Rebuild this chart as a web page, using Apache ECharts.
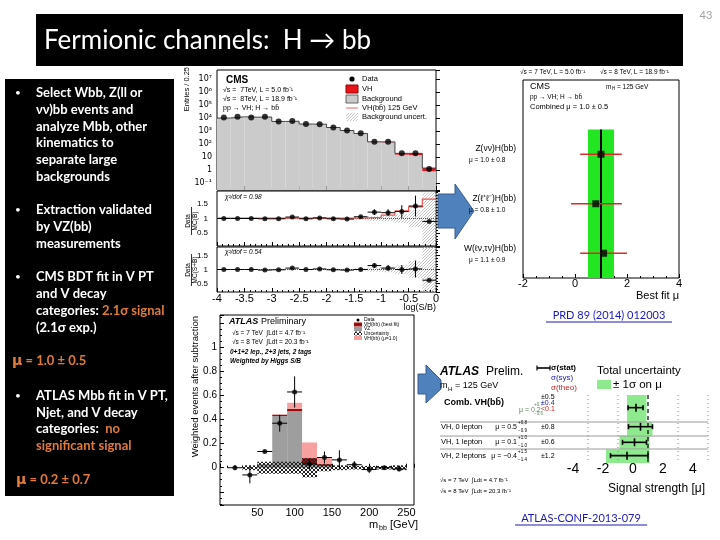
<!DOCTYPE html>
<html lang="en">
<head>
<meta charset="UTF-8">
<title>Fermionic channels: H → bb</title>
<script src="https://cdn.jsdelivr.net/npm/echarts@6.0.0/dist/echarts.min.js"></script>
<style>
  html, body { margin: 0; padding: 0; background: #fff; }
  #main { width: 720px; height: 540px; }
</style>
</head>
<body>
<div id="main"></div>
<script>
// ---------- CMS: log(S/B) distribution, bins of 0.25 ----------
var cmsBinLo = [-4, -3.75, -3.5, -3.25, -3, -2.75, -2.5, -2.25, -2, -1.75, -1.5, -1.25, -1, -0.75, -0.5, -0.25];
var cmsBinW = 0.25;
var cmsData = [10700, 12600, 10700, 12600, 5250, 5900, 3470, 3240, 1820, 1070, 660, 151, 151, 19, 19, 1.2];
var cmsBkg  = [9800, 12300, 11500, 11900, 5400, 5600, 3400, 3300, 1850, 1080, 640, 140, 135, 15, 14, 0.8];
var cmsVH   = [2, 3, 3, 4, 3, 4, 4, 5, 4, 4, 6, 6, 8, 4, 5, 0.6];
var cmsYMin = 0.0288, cmsYMax = 4.9e7;

// ratio panels
var ratioB      = [1.0, 1.0, 1.0, 0.99, 0.99, 1.05, 0.99, 1.02, 0.99, 0.98, 1.06, 1.22, 1.2, 1.24, 1.43, 0.9];
var ratioBErr   = [0.01, 0.01, 0.01, 0.01, 0.015, 0.015, 0.02, 0.02, 0.025, 0.03, 0.04, 0.1, 0.12, 0.22, 0.36, 0];
var ratioSBLine = [1.01, 1.01, 1.01, 1.01, 1.01, 1.01, 1.01, 1.01, 1.01, 1.01, 1.02, 1.04, 1.12, 1.26, 1.4, 1.67];
var ratioSB     = [1.0, 1.0, 1.0, 0.98, 0.99, 1.05, 1.0, 1.02, 0.99, 0.98, 1.0, 1.14, 1.05, 1.0, 1.02, 0.62];
var ratioSBErr  = [0.01, 0.01, 0.01, 0.01, 0.015, 0.015, 0.02, 0.02, 0.025, 0.03, 0.04, 0.08, 0.1, 0.16, 0.3, 0];
var ratioUnc    = [0.02, 0.02, 0.02, 0.02, 0.02, 0.02, 0.02, 0.02, 0.03, 0.03, 0.05, 0.08, 0.1, 0.15, 0.3, 0.9];

// ---------- CMS best fit mu per channel ----------
var cmsMuName = ['Z(νν)H(bb)', 'Z(ℓ⁺ℓ⁻)H(bb)', 'W(ℓν,τν)H(bb)'];
var cmsMuText = ['μ = 1.0 ± 0.8', 'μ = 0.8 ± 1.0', 'μ = 1.1 ± 0.9'];
var cmsMu   = [1.0, 0.8, 1.1];
var cmsMuLo = [0.2, -0.15, 0.2];
var cmsMuHi = [1.8, 1.8, 2.0];
var cmsMuRow = [2.5, 1.5, 0.5];
var cmsComb = 1.0, cmsCombBand = [0.5, 1.5], cmsCombTop = 3;

// ---------- ATLAS mbb after subtraction ----------
var mbbCenter = [20, 40, 60, 80, 100, 120, 140, 160, 180, 200, 220, 240];
var mbbData = [0.0, -0.06, 0.135, 0.37, 0.63, 0.03, 0.085, 0.065, 0.025, -0.015, 0.0, -0.01];
var mbbErr  = [0.02, 0.07, 0.01, 0.07, 0.13, 0.04, 0.05, 0.08, 0.03, 0.03, 0.015, 0.02];
var mbbUnc  = [0, 0.02, 0.05, 0.05, 0.05, 0.08, 0.03, 0.02, 0.015, 0.015, 0.015, 0.02];
var mbbSigLo = [50, 70, 90, 110, 130];
var mbbVZ     = [0.03, 0.43, 0.47, 0.03, 0.015];
var mbbFitTop = [0.03, 0.44, 0.49, 0.08, 0.03];
var mbbMu1Top = [0.03, 0.445, 0.54, 0.21, 0.08];
var mbbYMin = -0.31, mbbYMax = 1.27;

// ---------- ATLAS signal strength ----------
var atlasMu     = [0.2, 0.5, 0.1, -0.4];
var atlasLo     = [-0.4, -0.4, -0.9, -1.8];
var atlasHi     = [0.9, 1.3, 1.1, 1.1];
var atlasStatLo = [-0.33, -0.3, -0.7, -1.5];
var atlasStatHi = [0.67, 1.3, 0.9, 1.0];
var atlasRowFrom = [0, 2, 3, 4];
var atlasRowTo   = [2, 3, 4, 5];
var atlasRowY    = [0.93, 2.33, 3.48, 4.46];
var atlasGridMu  = [-3, -1, 3, 5];
var atlasSM = 1;

var SANS = '"Liberation Sans"';
function fnt(px, w, st) { return [st || '', w || '', px + 'px', SANS].join(' ').trim(); }

function hatch(color, step, cross) {
  var c = document.createElement('canvas');
  c.width = c.height = step;
  var g = c.getContext('2d');
  g.strokeStyle = color; g.lineWidth = 1;
  g.beginPath();
  g.moveTo(0, step); g.lineTo(step, 0);
  if (cross) { g.moveTo(0, 0); g.lineTo(step, step); }
  g.stroke();
  return c;
}
var greyHatch = { image: hatch('#c4c4c4', 3, false), repeat: 'repeat' };
var darkHatch = { image: hatch('#222', 4, true), repeat: 'repeat' };

// rect boxes [x0, x1, y0, y1]
function boxes(gi, items, style, z) {
  return {
    type: 'custom', xAxisIndex: gi, yAxisIndex: gi, z: z || 2, clip: true,
    encode: { x: [0, 1], y: [2, 3] }, data: items,
    renderItem: function (p, api) {
      var a = api.coord([api.value(0), api.value(2)]);
      var b = api.coord([api.value(1), api.value(3)]);
      return { type: 'rect', shape: { x: Math.min(a[0], b[0]), y: Math.min(a[1], b[1]),
        width: Math.abs(b[0] - a[0]), height: Math.abs(b[1] - a[1]) }, style: style };
    }
  };
}
// error bars [x, y, xlo, xhi, ylo, yhi]
function errs(gi, items, color, lw, cap) {
  return {
    type: 'custom', xAxisIndex: gi, yAxisIndex: gi, z: 5, clip: false,
    encode: { x: [0, 2, 3], y: [1, 4, 5] }, data: items,
    renderItem: function (p, api) {
      var c = api.coord([api.value(0), api.value(1)]);
      var xl = api.coord([api.value(2), api.value(1)]);
      var xh = api.coord([api.value(3), api.value(1)]);
      var yl = api.coord([api.value(0), api.value(4)]);
      var yh = api.coord([api.value(0), api.value(5)]);
      var st = { stroke: color, lineWidth: lw };
      var ch = [
        { type: 'line', shape: { x1: xl[0], y1: c[1], x2: xh[0], y2: c[1] }, style: st },
        { type: 'line', shape: { x1: c[0], y1: yl[1], x2: c[0], y2: yh[1] }, style: st }
      ];
      if (cap) {
        ch.push({ type: 'line', shape: { x1: xl[0], y1: c[1] - cap, x2: xl[0], y2: c[1] + cap }, style: st });
        ch.push({ type: 'line', shape: { x1: xh[0], y1: c[1] - cap, x2: xh[0], y2: c[1] + cap }, style: st });
        ch.push({ type: 'line', shape: { x1: c[0], y1: c[1] - cap * 1.6, x2: c[0], y2: c[1] + cap * 1.6 }, style: st });
      }
      return { type: 'group', children: ch };
    }
  };
}
function vlines(gi, xs, y0, y1, style) {
  return {
    type: 'custom', xAxisIndex: gi, yAxisIndex: gi, z: 3, clip: false,
    encode: { x: 0 }, data: xs.map(function (v) { return [v]; }),
    renderItem: function (p, api) {
      var a = api.coord([api.value(0), y0]), b = api.coord([api.value(0), y1]);
      return { type: 'line', shape: { x1: a[0], y1: a[1], x2: b[0], y2: b[1] }, style: style };
    }
  };
}
function stepLine(gi, lo, w, vals, color, width) {
  var d = lo.map(function (x, i) { return [x, vals[i]]; });
  d.push([lo[lo.length - 1] + w, vals[vals.length - 1]]);
  return { type: 'line', xAxisIndex: gi, yAxisIndex: gi, step: 'end', data: d, symbol: 'none',
    lineStyle: { color: color, width: width }, z: 4 };
}

var tickIn = { show: true, inside: true, length: 4, lineStyle: { color: '#000' } };
function xAx(gi, o) {
  return Object.assign({ gridIndex: gi, type: 'value', axisLine: { show: false }, splitLine: { show: false },
    axisTick: tickIn, minorTick: { show: true, splitNumber: 5, length: 2, lineStyle: { color: '#000' } },
    axisLabel: { show: false } }, o);
}
function ratioLabel(v) { var r = Math.round(v * 10) / 10; return (r === 0.5 || r === 1 || r === 1.5) ? String(r) : ''; }
var SUP = { '-': '⁻', '0': '⁰', '1': '¹', '2': '²', '3': '³', '4': '⁴', '5': '⁵', '6': '⁶', '7': '⁷', '8': '⁸', '9': '⁹' };

var centers = cmsBinLo.map(function (x) { return x + cmsBinW / 2; });

var series = [
  // CMS top panel
  boxes(0, cmsBinLo.map(function (x, i) { return [x, x + cmsBinW, cmsYMin, cmsBkg[i]]; }), { fill: '#cbcbcb' }),
  boxes(0, cmsBinLo.map(function (x, i) { return [x, x + cmsBinW, cmsBkg[i], cmsBkg[i] + cmsVH[i]]; }), { fill: '#e8141c' }),
  stepLine(0, cmsBinLo, cmsBinW, cmsBkg.map(function (b, i) { return b + cmsVH[i]; }), '#444', 1),
  { type: 'scatter', xAxisIndex: 0, yAxisIndex: 0, symbolSize: 6, itemStyle: { color: '#000' }, z: 6,
    data: centers.map(function (x, i) { return [x, cmsData[i]]; }) },
  // ratio 1
  boxes(1, cmsBinLo.map(function (x, i) { return [x, x + cmsBinW, 1 - ratioUnc[i], 1 + ratioUnc[i]]; }), { fill: greyHatch }),
  { type: 'line', xAxisIndex: 1, yAxisIndex: 1, data: [[-4, 1], [0, 1]], symbol: 'none', lineStyle: { color: '#555', width: 1, type: 'dotted' }, z: 3 },
  stepLine(1, cmsBinLo, cmsBinW, ratioSBLine, '#ef5050', 1.2),
  errs(1, centers.map(function (x, i) { return [x, ratioB[i], x - cmsBinW / 2, x + cmsBinW / 2, ratioB[i] - ratioBErr[i], ratioB[i] + ratioBErr[i]]; }), '#000', 1),
  { type: 'scatter', xAxisIndex: 1, yAxisIndex: 1, symbolSize: 5, itemStyle: { color: '#000' }, z: 6,
    data: centers.map(function (x, i) { return [x, ratioB[i]]; }) },
  // ratio 2
  boxes(2, cmsBinLo.map(function (x, i) { return [x, x + cmsBinW, 1 - ratioUnc[i], 1 + ratioUnc[i]]; }), { fill: greyHatch }),
  { type: 'line', xAxisIndex: 2, yAxisIndex: 2, data: [[-4, 1], [0, 1]], symbol: 'none', lineStyle: { color: '#555', width: 1, type: 'dotted' }, z: 3 },
  errs(2, centers.map(function (x, i) { return [x, ratioSB[i], x - cmsBinW / 2, x + cmsBinW / 2, ratioSB[i] - ratioSBErr[i], ratioSB[i] + ratioSBErr[i]]; }), '#000', 1),
  { type: 'scatter', xAxisIndex: 2, yAxisIndex: 2, symbolSize: 5, itemStyle: { color: '#000' }, z: 6,
    data: centers.map(function (x, i) { return [x, ratioSB[i]]; }) },
  // CMS mu
  boxes(3, [[cmsCombBand[0], cmsCombBand[1], 0, cmsCombTop]], { fill: '#22e622' }),
  { type: 'line', xAxisIndex: 3, yAxisIndex: 3, data: [[cmsComb, 0], [cmsComb, cmsCombTop]], symbol: 'none', lineStyle: { color: '#000', width: 2 }, z: 4 },
  errs(3, cmsMu.map(function (m, i) { return [m, cmsMuRow[i], cmsMuLo[i], cmsMuHi[i], cmsMuRow[i], cmsMuRow[i]]; }), '#e02828', 1.5),
  { type: 'scatter', xAxisIndex: 3, yAxisIndex: 3, symbol: 'rect', symbolSize: 7, itemStyle: { color: '#000' }, z: 6,
    data: cmsMu.map(function (m, i) { return [m, cmsMuRow[i]]; }) },
  // ATLAS mbb
  boxes(4, mbbSigLo.map(function (x, i) { return [x, x + 20, 0, mbbVZ[i]]; }), { fill: '#9e9e9e' }),
  boxes(4, mbbSigLo.map(function (x, i) { return [x, x + 20, mbbVZ[i], mbbFitTop[i]]; }), { fill: '#9c0c0c' }),
  boxes(4, mbbSigLo.map(function (x, i) { return [x, x + 20, mbbFitTop[i], mbbMu1Top[i]]; }), { fill: '#f6a0a0' }),
  boxes(4, mbbCenter.map(function (x, i) { return [x - 10, x + 10, -mbbUnc[i], mbbUnc[i]]; }), { fill: darkHatch }, 3),
  errs(4, mbbCenter.map(function (x, i) { return [x, mbbData[i], x - 10, x + 10, mbbData[i] - mbbErr[i], mbbData[i] + mbbErr[i]]; }), '#000', 1),
  { type: 'scatter', xAxisIndex: 4, yAxisIndex: 4, symbolSize: 5, itemStyle: { color: '#000' }, z: 6,
    data: mbbCenter.map(function (x, i) { return [x, mbbData[i]]; }) },
  // ATLAS mu
  boxes(5, atlasMu.map(function (m, i) { return [atlasLo[i], atlasHi[i], atlasRowFrom[i], atlasRowTo[i]]; }), { fill: '#8fe98f' }),
  vlines(5, atlasGridMu, 0, 5, { stroke: '#888', lineWidth: 1, lineDash: [1, 3] }),
  vlines(5, [atlasSM], 0, 5, { stroke: '#000', lineWidth: 1.2, lineDash: [4, 3] }),
  errs(5, atlasMu.map(function (m, i) { return [m, atlasRowY[i], atlasStatLo[i], atlasStatHi[i], atlasRowY[i], atlasRowY[i]]; }), '#000', 1.6, 2.5)
];

// ---------- text and decorations ----------
var G = [];
function T(x, y, text, font, o) {
  o = o || {};
  var al = o.align || 'left';
  G.push({ type: 'text', x: x, y: y, z: 100, rotation: o.rot || 0,
    style: { text: text, font: font, fill: o.fill || '#000', textAlign: al, align: al,
      textVerticalAlign: 'middle', verticalAlign: 'middle', rich: o.rich } });
}
function L(x1, y1, x2, y2, stroke, w, dash) {
  G.push({ type: 'line', z: 90, shape: { x1: x1, y1: y1, x2: x2, y2: y2 }, style: { stroke: stroke, lineWidth: w || 1, lineDash: dash } });
}
function R(x, y, w, h, fill, stroke, z) {
  G.push({ type: 'rect', z: z == null ? 90 : z, shape: { x: x, y: y, width: w, height: h }, style: { fill: fill, stroke: stroke } });
}

// slide frame
R(36, 14, 647, 52, '#000', null, 0);
R(5, 79, 169, 417, '#000', null, 0);
T(44, 41, 'Fermionic channels:  H → bb', '26px Lato', { fill: '#fff' });
T(706, 15, '43', '11px Lato', { fill: '#a0a0a0', align: 'center' });

var ORANGE = '#e07b39';
var panelRich = {
  o: { fill: ORANGE, color: ORANGE, font: 'bold 13px Lato' },
  m: { fill: ORANGE, color: ORANGE, font: 'bold 14px "DejaVu Sans"' }
};
var panelText = [
  [93, 1, 'Select Wbb, Z(ll or'], [110, 0, 'νν)bb events and'], [127, 0, 'analyze Mbb, other'],
  [143, 0, 'kinematics to'], [160, 0, 'separate large'], [177, 0, 'backgrounds'],
  [210, 1, 'Extraction validated'], [227, 0, 'by VZ(bb)'], [244, 0, 'measurements'],
  [277, 1, 'CMS BDT fit in V PT'], [294, 0, 'and V decay'], [311, 0, 'categories: {o|2.1σ signal}'],
  [328, 0, '(2.1σ exp.)'],
  [396, 1, 'ATLAS Mbb fit in V PT,'], [413, 0, 'Njet, and V decay'], [429, 0, 'categories:  {o|no}'],
  [446, 0, '{o|significant signal}']
];
panelText.forEach(function (r) {
  if (r[1]) T(15, r[0], '•', '10px Lato', { fill: '#fff' });
  T(36, r[0], r[2], 'bold 13px Lato', { fill: '#fff', rich: panelRich });
});
T(12, 361, '{m|μ}{o| = 1.0 ± 0.5}', 'bold 13px Lato', { fill: ORANGE, rich: panelRich });
T(16, 480, '{m|μ}{o| = 0.2 ± 0.7}', 'bold 13px Lato', { fill: ORANGE, rich: panelRich });

// arrows
G.push({ type: 'polygon', z: 80, shape: { points: [[438, 194], [455, 194], [455, 184], [474, 211], [455, 239], [455, 228], [438, 228]] },
  style: { fill: '#4f81bd', stroke: '#385d8a', lineWidth: 1 } });
G.push({ type: 'polygon', z: 80, shape: { points: [[418, 374], [426, 374], [426, 365], [441, 380], [441, 389], [426, 403], [426, 394], [418, 394]] },
  style: { fill: '#4f81bd', stroke: '#385d8a', lineWidth: 1 } });

// CMS top panel texts
T(187, 67, 'Entries / 0.25', fnt(7.5), { rot: Math.PI / 2, align: 'right' });
T(226, 80, 'CMS', fnt(10, 'bold'));
T(223, 90, '√s =  7TeV, L = 5.0 fb⁻¹', fnt(7));
T(223, 99, '√s =  8TeV, L = 18.9 fb⁻¹', fnt(7));
T(223, 108, 'pp → VH; H → bb̄', fnt(7));
G.push({ type: 'circle', z: 90, shape: { cx: 352, cy: 79, r: 2.6 }, style: { fill: '#000' } });
R(346, 85, 12, 8, '#e8141c', '#900');
R(346, 95, 12, 8, '#cbcbcb', '#666');
L(346, 108, 358, 108, '#f08080', 1.2);
R(346, 113, 12, 8, greyHatch, null);
T(362, 79, 'Data', fnt(7.5));
T(362, 89, 'VH', fnt(7.5));
T(362, 99, 'Background', fnt(7.5));
T(362, 108, 'VH(bb̄) 125 GeV', fnt(7.5));
T(362, 117, 'Background uncert.', fnt(7.5));
// ratio panel texts
T(225, 197, 'χ²/dof = 0.98', fnt(6.5, '', 'italic'));
T(225, 252, 'χ²/dof = 0.54', fnt(6.5, '', 'italic'));
T(188, 221, 'Data', fnt(6.5), { rot: Math.PI / 2, align: 'center' });
L(191.5, 207, 191.5, 235, '#000', 0.8);
T(195, 221, 'MC(B)', fnt(6.5), { rot: Math.PI / 2, align: 'center' });
T(188, 270, 'Data', fnt(6.5), { rot: Math.PI / 2, align: 'center' });
L(191.5, 254, 191.5, 286, '#000', 0.8);
T(195, 270, 'MC(S+B)', fnt(6.5), { rot: Math.PI / 2, align: 'center' });
T(436, 308, 'log(S/B)', fnt(9), { align: 'right' });

// CMS mu texts
T(520, 72, '√s = 7 TeV, L = 5.0 fb⁻¹', fnt(6.5));
T(600, 72, '√s = 8 TeV, L = 18.9 fb⁻¹', fnt(6.5));
T(530, 87, 'CMS', fnt(9));
T(606, 87, 'm', fnt(6.5)); T(612, 89, 'H', fnt(4.5)); T(617, 87, '= 125 GeV', fnt(6.5));
T(530, 97, 'pp → VH; H → bb̄', fnt(6.5));
T(530, 107, 'Combined μ = 1.0 ± 0.5', fnt(7.5));
cmsMuName.forEach(function (n, i) {
  var y = [149, 199, 249][i];
  T(516, y, n, fnt(8.5), { align: 'right' });
  T(469, y + 11, cmsMuText[i], fnt(6.5));
});
T(679, 296, 'Best fit μ', fnt(11), { align: 'right' });
T(609, 315, 'PRD 89 (2014) 012003', '11px Lato', { fill: '#1a1ab8', align: 'center' });
L(546, 322, 672, 322, '#1a1ab8', 1);

// ATLAS mbb texts
T(195, 316, 'Weighted events after subtraction', fnt(9.5), { rot: Math.PI / 2, align: 'right' });
T(229, 322, 'ATLAS', fnt(9, 'bold', 'italic'));
T(261, 322, 'Preliminary', fnt(9));
T(232, 333, '√s = 7 TeV  ∫Ldt = 4.7 fb⁻¹', fnt(6.5));
T(232, 342, '√s = 8 TeV  ∫Ldt = 20.3 fb⁻¹', fnt(6.5));
T(230, 352, '0+1+2 lep., 2+3 jets, 2 tags', fnt(6.5, 'bold', 'italic'));
T(230, 361, 'Weighted by Higgs S/B', fnt(6.5, 'bold', 'italic'));
G.push({ type: 'circle', z: 90, shape: { cx: 358, cy: 320, r: 1.5 }, style: { fill: '#000' } });
R(354, 322.5, 8, 4, '#9c0c0c', null);
R(354, 327, 8, 4, '#9e9e9e', null);
R(354, 331.5, 8, 4, darkHatch, null);
R(354, 336, 8, 4, '#f6a0a0', null);
T(364, 320, 'Data', fnt(5));
T(364, 325, 'VH(bb) (best fit)', fnt(5));
T(364, 329, 'VZ', fnt(5));
T(364, 334, 'Uncertainty', fnt(5));
T(364, 338.5, 'VH(bb) (μ=1.0)', fnt(5));
T(369, 525, 'm', fnt(11)); T(379, 528, 'bb', fnt(7)); T(390, 525, '[GeV]', fnt(11));

// ATLAS mu texts
[422, 436, 449].forEach(function (y) { L(440, y, 708, y, '#9a9a9a', 1); });
T(440, 372, 'ATLAS', fnt(12, 'bold', 'italic'));
T(486, 372, 'Prelim.', fnt(12));
T(440, 386, 'm', fnt(9)); T(448, 389, 'H', fnt(6)); T(455, 386, '= 125 GeV', fnt(9));
L(537, 368, 550, 368, '#000', 1.6); L(537, 365.5, 537, 370.5, '#000', 1.2); L(550, 365.5, 550, 370.5, '#000', 1.2);
T(551, 368, 'σ(stat)', fnt(8, 'bold'));
T(551, 378, 'σ(sys)', fnt(8), { fill: '#2020c0' });
T(551, 388, 'σ(theo)', fnt(8), { fill: '#d02020' });
T(597, 371, 'Total uncertainty', fnt(11.5));
R(597, 380, 14, 9, '#8fe98f', null);
T(613, 385, '± 1σ on μ', fnt(11.5));
T(444, 403, 'Comb. VH(bb̄)', fnt(9, 'bold'));
T(519, 410, 'μ = 0.2', fnt(7), { fill: '#5b8a5b' }); T(534, 405, '+0.7', fnt(4.5), { fill: '#5b8a5b' }); T(534, 414, '−0.6', fnt(4.5), { fill: '#5b8a5b' });
T(541, 397, '±0.5', fnt(7)); T(541, 403, '±0.4', fnt(7), { fill: '#2020c0' }); T(541, 409, '<0.1', fnt(7), { fill: '#d02020' });
var atlasRowText = [['VH, 0 lepton', 'μ = 0.5', '+0.8', '−0.9', '±0.8'], ['VH, 1 lepton', 'μ = 0.1', '+1.0', '−1.0', '±0.6'], ['VH, 2 leptons', 'μ = −0.4', '+1.5', '−1.4', '±1.2']];
[427, 442, 456].forEach(function (y, i) {
  var r = atlasRowText[i];
  T(441, y, r[0], fnt(7.5));
  T(517, y, r[1], fnt(7), { align: 'right' });
  T(518, y - 4, r[2], fnt(4.5)); T(518, y + 4, r[3], fnt(4.5));
  T(541, y, r[4], fnt(7));
});
T(440, 480, '√s = 7 TeV  ∫Ldt = 4.7 fb⁻¹', fnt(6));
T(440, 491, '√s = 8 TeV  ∫Ldt = 20.3 fb⁻¹', fnt(6));
T(705, 489, 'Signal strength [μ]', fnt(12), { align: 'right' });
T(581, 518, 'ATLAS-CONF-2013-079', '11px Lato', { fill: '#1a1ab8', align: 'center' });
L(515, 525, 647, 525, '#1a1ab8', 1);

var gridBase = { show: true, borderColor: '#000', borderWidth: 1, backgroundColor: 'transparent', outerBoundsMode: 'none', containLabel: false };
var option = {
  animation: false,
  textStyle: { fontFamily: 'Liberation Sans' },
  grid: [
    Object.assign({ left: 217, top: 70, width: 219, height: 120 }, gridBase),
    Object.assign({ left: 217, top: 191, width: 219, height: 55 }, gridBase),
    Object.assign({ left: 217, top: 247, width: 219, height: 45 }, gridBase),
    Object.assign({ left: 523, top: 80, width: 156, height: 198 }, gridBase),
    Object.assign({ left: 220, top: 315, width: 194, height: 190 }, gridBase),
    Object.assign({}, gridBase, { left: 558, top: 395, width: 150, height: 68, show: false })
  ],
  xAxis: [
    xAx(0, { min: -4, max: 0, interval: 0.5 }),
    xAx(1, { min: -4, max: 0, interval: 0.5 }),
    xAx(2, { min: -4, max: 0, interval: 0.5, axisLabel: { show: true, color: '#000', fontSize: 11, margin: 1 } }),
    xAx(3, { min: -2, max: 4, interval: 2, minorTick: { show: true, splitNumber: 4, length: 2, lineStyle: { color: '#000' } },
      axisLabel: { show: true, color: '#000', fontSize: 11, margin: 0 } }),
    xAx(4, { min: 0, max: 260, interval: 50,
      axisLabel: { show: true, color: '#000', fontSize: 11, margin: 2, showMinLabel: false, showMaxLabel: false } }),
    xAx(5, { min: -5, max: 5, splitNumber: 5, axisTick: { show: false }, minorTick: { show: false },
      axisLabel: { show: true, color: '#000', fontSize: 14, margin: -1, showMinLabel: false, showMaxLabel: false } })
  ],
  yAxis: [
    { gridIndex: 0, type: 'log', logBase: 10, min: cmsYMin, max: cmsYMax, splitNumber: 9,
      axisLine: { show: false }, splitLine: { show: false }, axisTick: tickIn,
      axisLabel: { color: '#000', margin: 5, fontSize: 8, fontFamily: 'DejaVu Sans',
        formatter: function (v) {
          var l = Math.log10(v), e = Math.round(l);
          if (Math.abs(l - e) > 1e-6) return '';
          if (e === 0) return '1';
          if (e === 1) return '10';
          return '10' + String(e).split('').map(function (ch) { return SUP[ch]; }).join('');
        } } },
    xAx(1, { min: 0.05, max: 1.95, splitNumber: 4, minorTick: { show: true, splitNumber: 5, length: 2, lineStyle: { color: '#000' } },
      axisLabel: { show: true, color: '#000', fontSize: 8, margin: 9, formatter: ratioLabel } }),
    xAx(2, { min: 0.2, max: 1.8, splitNumber: 3, minorTick: { show: true, splitNumber: 5, length: 2, lineStyle: { color: '#000' } },
      axisLabel: { show: true, color: '#000', fontSize: 8, margin: 9, formatter: ratioLabel } }),
    { gridIndex: 3, type: 'value', min: 0, max: 4, axisLine: { show: false }, axisTick: { show: false },
      axisLabel: { show: false }, splitLine: { show: false } },
    xAx(4, { min: mbbYMin, max: mbbYMax, splitNumber: 8, minorTick: { show: true, splitNumber: 4, length: 2, lineStyle: { color: '#000' } },
      axisLabel: { show: true, color: '#000', fontSize: 10, margin: 3,
        formatter: function (v) { var r = Math.round(v * 10) / 10; return (r < 0 || r > 1) ? '' : String(r); } } }),
    { gridIndex: 5, type: 'value', min: 0, max: 5, inverse: true, axisLine: { show: false }, axisTick: { show: false },
      axisLabel: { show: false }, splitLine: { show: false } }
  ],
  series: series,
  graphic: { elements: G }
};

var myChart = echarts.init(document.getElementById('main'));
myChart.setOption(option);
</script>
</body>
</html>
